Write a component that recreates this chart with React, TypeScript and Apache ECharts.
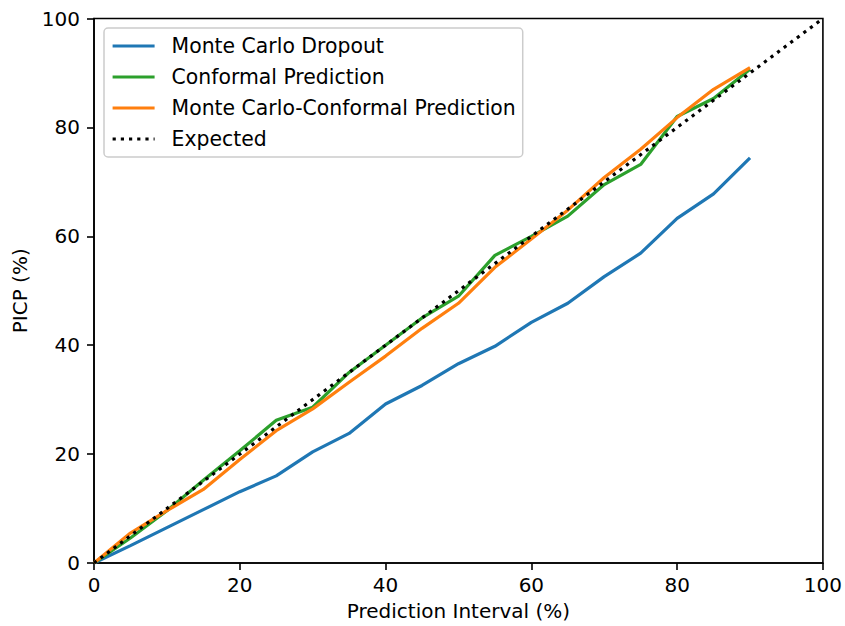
import React, { useEffect, useRef } from "react";
import * as echarts from "echarts";

const xValues = [0, 5, 10, 15, 20, 25, 30, 35, 40, 45, 50, 55, 60, 65, 70, 75, 80, 85, 90];
const mcDropout = [0, 3.2, 6.5, 9.8, 13.1, 16.0, 20.4, 23.8, 29.2, 32.6, 36.6, 39.8, 44.2, 47.7, 52.6, 56.9, 63.3, 67.8, 74.4];
const conformal = [0, 4.6, 9.6, 15.2, 20.6, 26.2, 28.6, 35.0, 40.0, 45.0, 49.0, 56.5, 60.0, 63.7, 69.5, 73.2, 82.0, 85.3, 90.7];
const mcConformal = [0, 5.5, 9.6, 13.5, 19.0, 24.3, 28.3, 33.2, 38.0, 43.1, 47.7, 54.3, 59.5, 64.8, 70.8, 76.0, 81.8, 87.0, 91.0];
const expectedX = [0, 100];
const expectedY = [0, 100];
const axisTicks = [0, 20, 40, 60, 80, 100];

const seriesNames = [
  "Monte Carlo Dropout",
  "Conformal Prediction",
  "Monte Carlo-Conformal Prediction",
  "Expected",
];

const FONT = "DejaVu Sans";

export default function App() {
  const ref = useRef<HTMLDivElement>(null);
  useEffect(() => {
    document.body.style.margin = "0";
    const chart = echarts.init(ref.current!, null, { renderer: "svg" });
    const pair = (xs: number[], ys: number[]) => xs.map((x, i) => [x, ys[i]]);
    const axisCommon = {
      type: "value" as const,
      min: axisTicks[0],
      max: axisTicks[axisTicks.length - 1],
      interval: 20,
      splitLine: { show: false },
      axisLine: { show: true, onZero: false, lineStyle: { color: "#000", width: 1.6 } },
      axisTick: { show: true, length: 7, lineStyle: { color: "#000", width: 1.6 } },
      nameLocation: "middle" as const,
      nameTextStyle: { fontFamily: FONT, fontSize: 20, color: "#000" },
    };
    chart.setOption({
      animation: false,
      backgroundColor: "#fff",
      grid: {
        left: 94,
        top: 18.5,
        right: 22,
        bottom: 63,
        show: true,
        borderColor: "#000",
        borderWidth: 1.6,
        backgroundColor: "transparent",
      },
      xAxis: {
        ...axisCommon,
        name: "Prediction Interval (%)",
        nameGap: 38,
        axisLabel: { fontFamily: FONT, fontSize: 20, color: "#000", margin: 12 },
      },
      yAxis: {
        ...axisCommon,
        name: "PICP (%)",
        nameGap: 64,
        nameRotate: 90,
        axisLabel: { fontFamily: FONT, fontSize: 20, color: "#000", margin: 14 },
      },
      legend: {
        data: seriesNames,
        orient: "vertical",
        left: 104,
        top: 28,
        padding: [8, 7, 8, 7],
        itemWidth: 42,
        itemHeight: 14,
        itemGap: 11,
        itemStyle: { opacity: 0, color: "rgba(0,0,0,0)", borderWidth: 0 },
        lineStyle: { width: 3.2 },
        backgroundColor: "rgba(255,255,255,0.8)",
        borderColor: "#cccccc",
        borderWidth: 1.5,
        borderRadius: 4,
        textStyle: {
          fontFamily: FONT,
          fontSize: 20.4,
          color: "#000",
          lineHeight: 20,
          padding: [0, 0, 0, 12],
        },
      },
      series: [
        {
          name: seriesNames[0],
          type: "line",
          data: pair(xValues, mcDropout),
          symbol: "none",
          lineStyle: { color: "#1f77b4", width: 3.2 },
          itemStyle: { color: "#1f77b4" },
          z: 2,
        },
        {
          name: seriesNames[1],
          type: "line",
          data: pair(xValues, conformal),
          symbol: "none",
          lineStyle: { color: "#2ca02c", width: 3.2 },
          itemStyle: { color: "#2ca02c" },
          z: 3,
        },
        {
          name: seriesNames[2],
          type: "line",
          data: pair(xValues, mcConformal),
          symbol: "none",
          lineStyle: { color: "#ff7f0e", width: 3.2 },
          itemStyle: { color: "#ff7f0e" },
          z: 4,
        },
        {
          name: seriesNames[3],
          type: "line",
          data: pair(expectedX, expectedY),
          symbol: "none",
          lineStyle: { color: "#000", width: 3.2, type: [3.2, 5], cap: "butt" },
          itemStyle: { color: "#000" },
          z: 5,
        },
      ],
    });
    return () => chart.dispose();
  }, []);
  return (
    <div
      ref={ref}
      style={{ position: "absolute", left: 0, top: 0, width: 845, height: 626 }}
    />
  );
}
